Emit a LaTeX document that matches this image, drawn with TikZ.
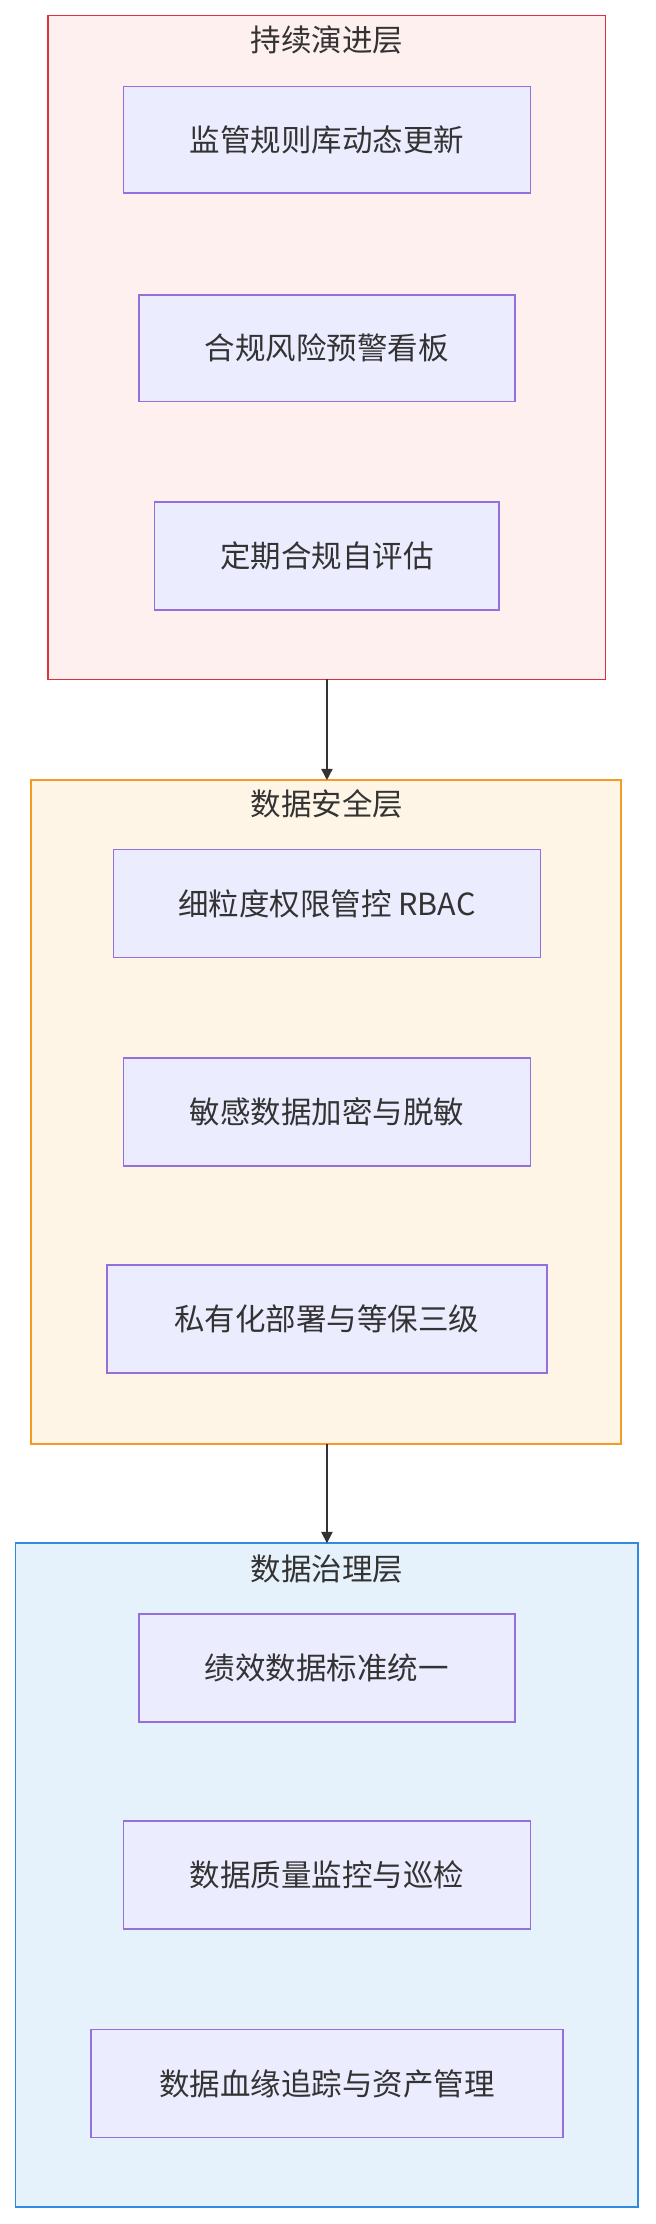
\documentclass[tikz,border=0pt]{standalone}
\usepackage{fontspec}
\setmainfont{Noto Sans CJK SC}
\usetikzlibrary{arrows.meta}
\definecolor{txt}{HTML}{333333}
\definecolor{innerfill}{HTML}{ECECFF}
\definecolor{innerdraw}{HTML}{9370DB}
\definecolor{l1d}{HTML}{E0303F}
\definecolor{l1f}{HTML}{FFF0F0}
\definecolor{l2d}{HTML}{F59B23}
\definecolor{l2f}{HTML}{FFF5E6}
\definecolor{l3d}{HTML}{2E8BE0}
\definecolor{l3f}{HTML}{E6F2FB}
\tikzset{
 layer/.style={line width=1.1pt},
 item/.style={draw=innerdraw, fill=innerfill, line width=1.1pt},
 lbl/.style={text=txt, font=\fontsize{21.5}{24}\selectfont},
 conn/.style={draw=txt, line width=1.1pt, -{Triangle[length=8pt,width=8pt]}}
}
\begin{document}
\begin{tikzpicture}[x=1pt,y=-1pt]
\useasboundingbox (0,0) rectangle (462,1568);
% layer 1
\filldraw[layer, draw=l1d, fill=l1f] (34,11) rectangle (427,479);
\node[lbl] (t1) at (230.5,28) {持续演进层};
\node[item, minimum width=287pt, minimum height=75pt, lbl] (a1) at (230.5,98.5) {监管规则库动态更新};
\node[item, minimum width=265pt, minimum height=75pt, lbl] (a2) at (230.5,245.5) {合规风险预警看板};
\node[item, minimum width=243pt, minimum height=76pt, lbl] (a3) at (230.5,392) {定期合规自评估};
\coordinate (b1) at (230.5,479);
% layer 2
\filldraw[layer, draw=l2d, fill=l2f] (22,550) rectangle (438,1018);
\node[lbl] (t2) at (230.5,567) {数据安全层};
\node[item, minimum width=301pt, minimum height=76pt, lbl] (c1) at (230.5,637) {细粒度权限管控 RBAC};
\node[item, minimum width=287pt, minimum height=76pt, lbl] (c2) at (230.5,784) {敏感数据加密与脱敏};
\node[item, minimum width=310pt, minimum height=76pt, lbl] (c3) at (230.5,930) {私有化部署与等保三级};
\coordinate (b2t) at (230.5,550);
\coordinate (b2) at (230.5,1018);
% layer 3
\filldraw[layer, draw=l3d, fill=l3f] (11,1088) rectangle (450,1556);
\node[lbl] (t3) at (230.5,1106) {数据治理层};
\node[item, minimum width=265pt, minimum height=76pt, lbl] (d1) at (230.5,1176) {绩效数据标准统一};
\node[item, minimum width=287pt, minimum height=76pt, lbl] (d2) at (230.5,1322) {数据质量监控与巡检};
\node[item, minimum width=333pt, minimum height=76pt, lbl] (d3) at (230.5,1469) {数据血缘追踪与资产管理};
\coordinate (b3t) at (230.5,1088);
\draw[conn] (b1) -- (b2t);
\draw[conn] (b2) -- (b3t);
\end{tikzpicture}
\end{document}
